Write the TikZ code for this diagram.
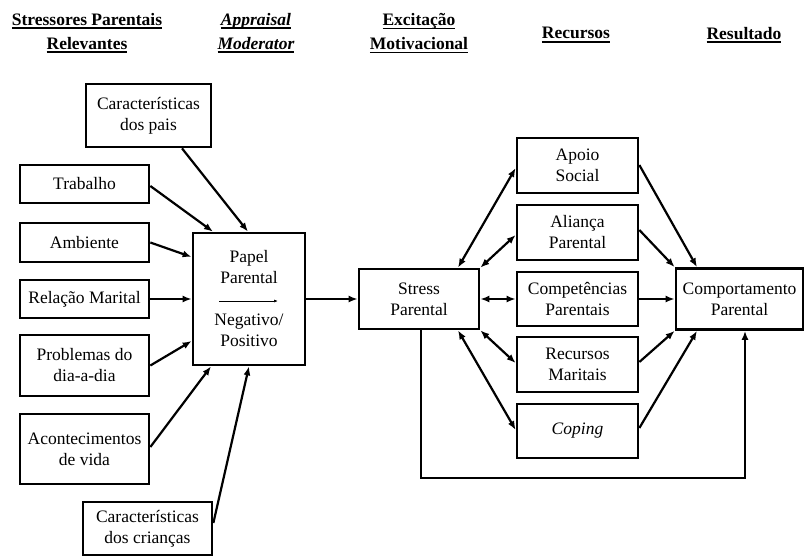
\documentclass[tikz,border=0pt]{standalone}
\usepackage{fontspec}
\setmainfont{Liberation Serif}
\usetikzlibrary{arrows.meta,calc}
\newcommand\hul[1]{\setbox0=\hbox{#1}\leavevmode\rlap{\rule[-4pt]{\wd0}{1.6pt}}\box0}
\begin{document}
\begin{tikzpicture}[x=1pt,y=-1pt,
 box/.style={draw, line width=2.7pt, align=center, inner sep=2pt, font=\fontsize{17.5}{21}\selectfont},
 hd/.style={align=center, font=\fontsize{17.5}{24}\selectfont\bfseries},
 arr/.style={line width=2.2pt, -{Latex[length=9pt,width=7pt]}},
 darr/.style={line width=2.2pt, {Latex[length=9pt,width=7pt]}-{Latex[length=9pt,width=7pt]}},
]
\useasboundingbox (0,0) rectangle (806,558);

% headings
\node[hd] (h1) at (87,33) {\hul{Stressores Parentais}\\\hul{Relevantes}};
\node[hd] (h2) at (256,33) {\hul{\itshape Appraisal}\\\hul{\itshape Moderator}};
\node[hd] (h3) at (419,33) {\hul{Excitação}\\\hul{Motivacional}};
\node[hd] (h4) at (576,35) {\hul{Recursos}};
\node[hd] (h5) at (744,35) {\hul{Resultado}};

% left column
\node[box, minimum width=125pt, minimum height=63pt] (pais) at (148.5,115.5) {Características\\dos pais};
\node[box, minimum width=129pt, minimum height=38pt] (trab) at (84.5,184) {Trabalho};
\node[box, minimum width=129pt, minimum height=39pt] (amb) at (84.5,242.5) {Ambiente};
\node[box, minimum width=129pt, minimum height=38pt] (rel) at (84.5,299) {Relação Marital};
\node[box, minimum width=129pt, minimum height=61pt] (prob) at (84.5,365.5) {Problemas do\\dia-a-dia};
\node[box, minimum width=129pt, minimum height=70pt] (acont) at (84.5,449) {Acontecimentos\\de vida};
\node[box, minimum width=129pt, minimum height=53pt] (cri) at (147.5,528.5) {Características\\dos crianças};

% moderator
\node[box, minimum width=112pt, minimum height=132pt] (papel) at (249,299) {Papel\\Parental\\[21pt]Negativo/\\Positivo};
\draw[line width=0.7pt, -{Latex[length=4pt,width=3pt]}] ($(papel.center)+(-30,2)$) -- ($(papel.center)+(29,2)$);

% stress
\node[box, minimum width=120pt, minimum height=60pt] (stress) at (419,299) {Stress\\Parental};

% resources
\node[box, minimum width=121pt, minimum height=55pt] (apoio) at (577.5,165.5) {Apoio\\Social};
\node[box, minimum width=121pt, minimum height=55pt] (alianca) at (577.5,232.5) {Aliança\\Parental};
\node[box, minimum width=121pt, minimum height=54pt] (comp) at (577.5,299) {Competências\\Parentais};
\node[box, minimum width=121pt, minimum height=55pt] (recm) at (577.5,364.5) {Recursos\\Maritais};
\node[box, minimum width=121pt, minimum height=54pt] (coping) at (577.5,431) {\itshape Coping};

% outcome
\node[box, minimum width=127pt, minimum height=61pt] (comport) at (739.5,299) {Comportamento\\Parental};

% arrows into papel
\draw[arr] ($(pais.south)+(33.5,0)$) -- ($(papel.north)+(-1,0)$);
\draw[arr] ($(trab.east)+(0,2)$) -- ($(papel.north)+(-36,0)$);
\draw[arr] (amb.east) -- ($(papel.west)+(0,-42)$);
\draw[arr] (rel.east) -- (papel.west);
\draw[arr] (prob.east) -- ($(papel.west)+(0,42)$);
\draw[arr] ($(acont.east)+(0,-2)$) -- ($(papel.south)+(-38,0)$);
\draw[arr] ($(cri.east)+(0,-5.5)$) -- (papel.south);

% papel -> stress
\draw[arr] (papel.east) -- (stress.west);

% stress <-> resources
\draw[darr] ($(stress.north)+(39,0)$) -- ($(apoio.west)+(0,2.5)$);
\draw[darr] (stress.north east) -- ($(alianca.west)+(0,2.5)$);
\draw[darr] (stress.east) -- (comp.west);
\draw[darr] (stress.south east) -- ($(recm.west)+(0,-1.5)$);
\draw[darr] ($(stress.south)+(39,0)$) -- ($(coping.west)+(0,-1)$);

% resources -> outcome
\draw[arr] ($(apoio.east)+(0,-0.5)$) -- ($(comport.north)+(-42.5,0)$);
\draw[arr] ($(alianca.east)+(0,-2.5)$) -- (comport.north west);
\draw[arr] (comp.east) -- (comport.west);
\draw[arr] ($(recm.east)+(0,-2.5)$) -- (comport.south west);
\draw[arr] ($(coping.east)+(0,-3)$) -- ($(comport.south)+(-42.5,0)$);

% feedback loop
\coordinate (loopy) at (0,478);
\draw[arr] ($(stress.south)+(2,0)$) coordinate (fb1) -- (fb1 |- loopy) -| ($(comport.south)+(5.5,0)$);
\end{tikzpicture}
\end{document}
